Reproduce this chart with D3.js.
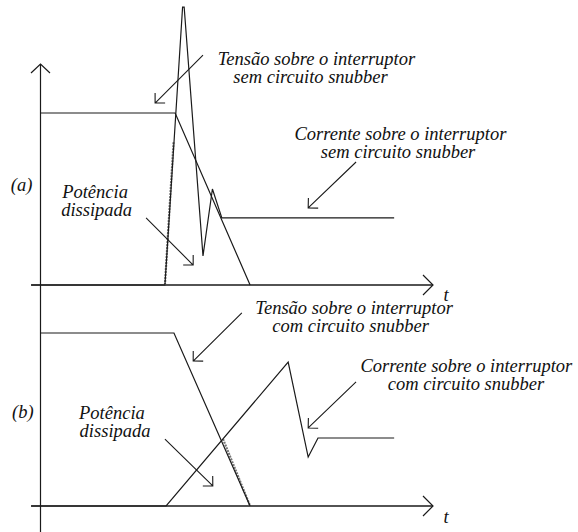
<!DOCTYPE html>
<html>
<head>
<meta charset="utf-8">
<script src="https://cdn.jsdelivr.net/npm/d3@7"></script>
<style>
  html, body { margin: 0; padding: 0; background: #fff; }
  svg { display: block; }
</style>
</head>
<body>
<svg id="chart" width="578" height="532"></svg>
<script>
// Switching waveforms (normalised time 0..100, normalised amplitude 0..100)
// (a) without snubber, (b) with snubber
const voltageA = [[0, 100], [34.3, 100], [53.4, 0]];
const currentA = [[-2.4, 0], [31.7, 0], [36.2, 161.6], [36.6, 161.6], [41.4, 16.9], [43.8, 55.8], [46.2, 39], [90.1, 39]];
const powerA   = [[31.7, 0], [33.9, 83.1]];

const voltageB = [[0, 100], [34.0, 100], [53.4, 0]];
const currentB = [[-2.4, 0], [32.0, 0], [63.1, 83.2], [68.2, 28.3], [70.7, 39.3], [90.1, 39.3]];
const powerB   = [[46.5, 38.7], [53.4, 0]];

// Annotation arrows: [fromT, fromV, toT, toV]
const arrowsA = [[41.4, 133.7, 29.2, 105.8], [26.9, 39.0, 38.9, 11.6], [80.4, 71.5, 68.2, 44.8]];
const arrowsB = [[51.3, 111.6, 38.9, 83.8], [31.7, 38.7, 43.9, 11.6], [80.4, 71.7, 68.2, 45.1]];

// Text lines: [text, t, v] (centre x, baseline)
const labelsA = [
  ["Tensão sobre o interruptor", 70.3, 127.9],
  ["sem circuito snubber", 68.8, 117.4],
  ["Corrente sobre o interruptor", 91.7, 84.3],
  ["sem circuito snubber", 91.1, 73.8],
  ["Potência", 13.9, 50.6],
  ["dissipada", 14.3, 40.1],
  ["(a)", -4.8, 54.7],
  ["t", 103.3, -9.3]
];
const labelsB = [
  ["Tensão sobre o interruptor", 79.9, 111.0],
  ["com circuito snubber", 79.0, 100.6],
  ["Corrente sobre o interruptor", 108.5, 77.5],
  ["com circuito snubber", 108.4, 67.1],
  ["Potência", 18.2, 50.3],
  ["dissipada", 19.0, 39.9],
  ["(b)", -4.5, 50.9],
  ["t", 103.3, -9.8]
];

const svg = d3.select("#chart");
const x = d3.scaleLinear().domain([0, 100]).range([40.5, 433]);
const yA = d3.scaleLinear().domain([0, 100]).range([285, 113]);
const yB = d3.scaleLinear().domain([0, 100]).range([506, 333]);

const ink = "#1a1a1a";

// vertical axis shared by both panels, arrow at the top
const axTop = yA(128.5), axBottom = yB(-15);
svg.append("line").attr("x1", x(0)).attr("x2", x(0)).attr("y1", axTop).attr("y2", axBottom)
  .attr("stroke", ink).attr("stroke-width", 1.2);
svg.append("path")
  .attr("d", `M${x(0) - 9.5},${axTop + 9} L${x(0)},${axTop} L${x(0) + 9.5},${axTop + 9}`)
  .attr("fill", "none").attr("stroke", ink).attr("stroke-width", 1.2);

function panel(y, voltage, current, power, arrows, labels) {
  const line = d3.line().x(d => x(d[0])).y(d => y(d[1]));

  // time axis with open arrowhead
  const x0 = x(-2.4), x1 = x(100), y0 = y(0);
  svg.append("line").attr("x1", x0).attr("x2", x1).attr("y1", y0).attr("y2", y0)
    .attr("stroke", ink).attr("stroke-width", 1.3);
  svg.append("path")
    .attr("d", `M${x1 - 10},${y0 - 10} L${x1},${y0} L${x1 - 10},${y0 + 10}`)
    .attr("fill", "none").attr("stroke", ink).attr("stroke-width", 1.2);

  // dissipated power highlight
  svg.append("path").datum(power).attr("d", line)
    .attr("fill", "none").attr("stroke", "#777").attr("stroke-width", 2.2)
    .attr("stroke-dasharray", "2,1");

  svg.append("path").datum(voltage).attr("d", line)
    .attr("fill", "none").attr("stroke", ink).attr("stroke-width", 1.2);
  svg.append("path").datum(current).attr("d", line)
    .attr("fill", "none").attr("stroke", ink).attr("stroke-width", 1.2)
    .attr("stroke-linejoin", "miter");

  // annotation arrows
  arrows.forEach(a => {
    const sx = x(a[0]), sy = y(a[1]), ex = x(a[2]), ey = y(a[3]);
    const ang = Math.atan2(sy - ey, sx - ex);
    const L = 10;
    const h1 = [ex + L * Math.cos(ang + Math.PI / 4), ey + L * Math.sin(ang + Math.PI / 4)];
    const h2 = [ex + L * Math.cos(ang - Math.PI / 4), ey + L * Math.sin(ang - Math.PI / 4)];
    svg.append("path")
      .attr("d", `M${sx},${sy} L${ex},${ey} M${h1[0]},${h1[1]} L${ex},${ey} L${h2[0]},${h2[1]}`)
      .attr("fill", "none").attr("stroke", ink).attr("stroke-width", 1.1);
  });

  labels.forEach(l => {
    svg.append("text").attr("x", x(l[1])).attr("y", y(l[2]))
      .attr("text-anchor", "middle")
      .attr("font-family", "'Liberation Serif', 'Times New Roman', Times, serif")
      .attr("font-style", "italic")
      .attr("font-size", 18.5)
      .attr("fill", "#111")
      .text(l[0]);
  });
}

panel(yA, voltageA, currentA, powerA, arrowsA, labelsA);
panel(yB, voltageB, currentB, powerB, arrowsB, labelsB);
</script>
</body>
</html>
